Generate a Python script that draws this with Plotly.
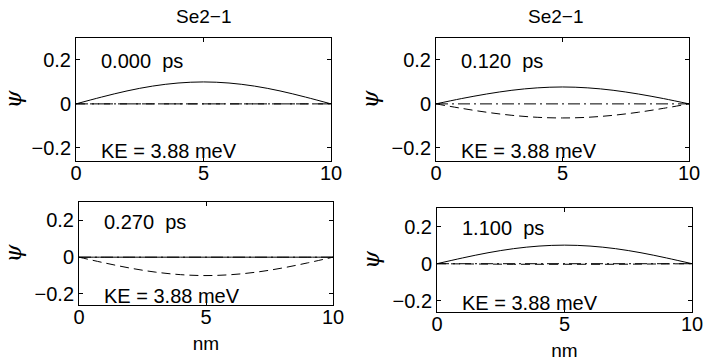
import plotly.graph_objects as go

W, H = 704, 361
x_nm = [0, 1, 2, 3, 4, 5, 6, 7, 8, 9, 10]

# panel values
re_0 = [0, 0.031, 0.059, 0.081, 0.095, 0.1, 0.095, 0.081, 0.059, 0.031, 0]
im_0 = [0, 0, 0, 0, 0, 0, 0, 0, 0, 0, 0]
re_1 = [0, 0.024, 0.045, 0.062, 0.073, 0.077, 0.073, 0.062, 0.045, 0.024, 0]
im_1 = [0, -0.020, -0.038, -0.052, -0.061, -0.064, -0.061, -0.052, -0.038, -0.020, 0]
re_2 = [0, 0, 0, 0, 0, 0, 0, 0, 0, 0, 0]
im_2 = [0, -0.031, -0.059, -0.081, -0.095, -0.1, -0.095, -0.081, -0.059, -0.031, 0]
re_3 = [0, 0.031, 0.059, 0.081, 0.095, 0.1, 0.095, 0.081, 0.059, 0.031, 0]
im_3 = [0, -0.001, -0.002, -0.003, -0.003, -0.003, -0.003, -0.003, -0.002, -0.001, 0]
zero_line = [0, 0, 0, 0, 0, 0, 0, 0, 0, 0, 0]

times = ["0.000  ps", "0.120  ps", "0.270  ps", "1.100  ps"]
ke_label = "KE = 3.88 meV"
titles = ["Se2\u22121", "Se2\u22121"]
x_ticks = [0, 5, 10]
y_ticks = [-0.2, 0, 0.2]
y_tick_text = ["\u22120.2", "0", "0.2"]

series = [(re_0, im_0), (re_1, im_1), (re_2, im_2), (re_3, im_3)]
# panel boxes in pixels: x0, x1, y0(top), y1(bottom)
boxes = [(76, 331, 38, 161), (436, 689, 38, 161), (79, 333, 202, 305), (437, 692, 208, 312)]
xtitle_standoff = [0, 0, 9, 21]

FONT = "Liberation Sans, Arial, Helvetica, sans-serif"
fig = go.Figure()
layout = dict(
    width=W, height=H, margin=dict(l=0, r=0, t=0, b=0, autoexpand=False),
    paper_bgcolor="white", plot_bgcolor="white", showlegend=False,
    font=dict(family=FONT, size=19, color="black"),
)
annotations = []
for i, ((re, im), (x0, x1, y0, y1)) in enumerate(zip(series, boxes)):
    n = "" if i == 0 else str(i + 1)
    xa, ya = "x" + n, "y" + n
    fig.add_trace(go.Scatter(x=x_nm, y=zero_line, mode="lines", xaxis=xa, yaxis=ya,
                             line=dict(color="black", width=1, dash="12px,4px,2px,4px")))
    fig.add_trace(go.Scatter(x=x_nm, y=im, mode="lines", xaxis=xa, yaxis=ya, line_shape="spline",
                             line=dict(color="black", width=1, dash="9px,5px")))
    fig.add_trace(go.Scatter(x=x_nm, y=re, mode="lines", xaxis=xa, yaxis=ya, line_shape="spline",
                             line=dict(color="black", width=1)))
    common = dict(showgrid=False, zeroline=False, showline=True, linecolor="black", linewidth=1,
                  mirror="allticks", ticks="inside", ticklen=4, tickcolor="black",
                  automargin=False, tickfont=dict(size=20, family=FONT))
    layout["xaxis" + n] = dict(common, domain=[x0 / W, x1 / W], anchor=ya, range=[0, 10],
                                tickvals=x_ticks, ticklabelstandoff=-6,
                                title=dict(text="nm" if i >= 2 else "",
                                           standoff=xtitle_standoff[i],
                                           font=dict(size=19)))
    layout["yaxis" + n] = dict(common, domain=[1 - y1 / H, 1 - y0 / H], anchor=xa,
                                range=[-0.26, 0.3], tickvals=y_ticks, ticktext=y_tick_text,
                                title=dict(text="<i>\u03c8</i>", standoff=6,
                                           font=dict(size=23, family="DejaVu Serif")))
    annotations.append(dict(text=times[i], xref=xa + " domain", yref=ya + " domain",
                            x=0.09, y=0.81, xanchor="left", yanchor="middle",
                            showarrow=False, font=dict(size=20)))
    annotations.append(dict(text=ke_label, xref=xa + " domain", yref=ya + " domain",
                            x=0.09, y=0.085, xanchor="left", yanchor="middle",
                            showarrow=False, font=dict(size=20)))

for t, cx in zip(titles, [203, 555]):
    annotations.append(dict(text=t, xref="paper", yref="paper", x=cx / W, y=1 - 17 / H,
                            xanchor="center", yanchor="middle", showarrow=False,
                            font=dict(size=19)))
layout["annotations"] = annotations
fig.update_layout(**layout)
fig.write_html("out.html")
